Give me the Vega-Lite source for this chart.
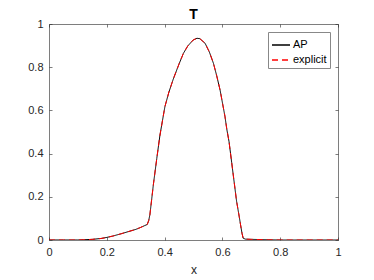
{
  "$schema": "https://vega.github.io/schema/vega-lite/v6.json",
  "autosize": "none",
  "width": 289,
  "height": 216,
  "padding": {"left": 49, "top": 24, "right": 36, "bottom": 40},
  "background": "white",
  "config": {
    "font": "Liberation Sans",
    "view": {"stroke": null},
    "axis": {"grid": false, "domainColor": "#262626", "domainWidth": 0.6, "tickColor": "#262626", "tickWidth": 0.6, "labelColor": "#262626", "labelFontSize": 11, "titleFontSize": 12, "titleColor": "#262626", "titleFontWeight": "normal"}
  },
  "title": {"text": "T", "fontSize": 14, "fontWeight": "bold", "color": "#000000", "offset": -4},
  "datasets": {
    "curve": [
      {"x": 0, "y": 0}, {"x": 0.05, "y": 0}, {"x": 0.1, "y": 0}, {"x": 0.12, "y": 0.001},
      {"x": 0.15, "y": 0.003}, {"x": 0.18, "y": 0.007}, {"x": 0.2, "y": 0.012}, {"x": 0.22, "y": 0.018},
      {"x": 0.25, "y": 0.029}, {"x": 0.28, "y": 0.041}, {"x": 0.3, "y": 0.049}, {"x": 0.315, "y": 0.057},
      {"x": 0.33, "y": 0.066}, {"x": 0.34, "y": 0.072}, {"x": 0.345, "y": 0.09}, {"x": 0.349, "y": 0.116},
      {"x": 0.355, "y": 0.185}, {"x": 0.361, "y": 0.255}, {"x": 0.373, "y": 0.378}, {"x": 0.384, "y": 0.486},
      {"x": 0.401, "y": 0.617}, {"x": 0.415, "y": 0.685}, {"x": 0.43, "y": 0.745}, {"x": 0.45, "y": 0.815},
      {"x": 0.465, "y": 0.864}, {"x": 0.48, "y": 0.898}, {"x": 0.499, "y": 0.926}, {"x": 0.512, "y": 0.934},
      {"x": 0.522, "y": 0.932}, {"x": 0.54, "y": 0.911}, {"x": 0.555, "y": 0.87}, {"x": 0.569, "y": 0.818},
      {"x": 0.58, "y": 0.762}, {"x": 0.592, "y": 0.694}, {"x": 0.609, "y": 0.571}, {"x": 0.615, "y": 0.515},
      {"x": 0.623, "y": 0.455}, {"x": 0.632, "y": 0.36}, {"x": 0.649, "y": 0.18}, {"x": 0.658, "y": 0.11},
      {"x": 0.663, "y": 0.069}, {"x": 0.668, "y": 0.03}, {"x": 0.672, "y": 0.008}, {"x": 0.68, "y": 0.004},
      {"x": 0.7, "y": 0.003}, {"x": 0.73, "y": 0.002}, {"x": 0.76, "y": 0.001}, {"x": 0.8, "y": 0},
      {"x": 0.85, "y": 0}, {"x": 0.9, "y": 0}, {"x": 1.0, "y": 0}
    ]
  },
  "data": {"name": "curve"},
  "transform": [
    {"fold": ["AP", "explicit"], "as": ["series", "dummy"]}
  ],
  "layer": [
    {
      "mark": {"type": "line", "strokeWidth": 1, "clip": true},
      "encoding": {
        "x": {"field": "x", "type": "quantitative", "scale": {"domain": [0, 1], "nice": false},
              "axis": {"orient": "bottom", "values": [0, 0.2, 0.4, 0.6, 0.8, 1], "format": "~g", "tickSize": -3, "labelPadding": 9, "title": "x", "titlePadding": 7, "labelFlush": false}},
        "y": {"field": "y", "type": "quantitative", "scale": {"domain": [0, 1], "nice": false},
              "axis": {"orient": "left", "values": [0, 0.2, 0.4, 0.6, 0.8, 1], "format": "~g", "tickSize": -3, "labelPadding": 9, "title": null, "labelFlush": false}},
        "color": {"field": "series", "type": "nominal", "scale": {"domain": ["AP", "explicit"], "range": ["#000000", "#ff0000"]},
                  "legend": {"title": null, "orient": "none", "legendX": 219, "legendY": 8, "symbolType": "stroke", "symbolSize": 324, "symbolStrokeWidth": 1.3, "labelFontSize": 11, "labelColor": "#000000", "fillColor": "white", "strokeColor": "#888888", "padding": 3, "rowPadding": -2, "labelOffset": 2}},
        "strokeDash": {"field": "series", "type": "nominal", "scale": {"domain": ["AP", "explicit"], "range": [[1, 0], [6, 4]]}, "legend": {"title": null}}
      }
    },
    {
      "mark": {"type": "point", "opacity": 0},
      "encoding": {
        "x": {"field": "x", "type": "quantitative", "scale": {"domain": [0, 1], "nice": false},
              "axis": {"orient": "top", "values": [0, 0.2, 0.4, 0.6, 0.8, 1], "labels": false, "tickSize": -3, "title": null}},
        "y": {"field": "y", "type": "quantitative", "scale": {"domain": [0, 1], "nice": false},
              "axis": {"orient": "right", "values": [0, 0.2, 0.4, 0.6, 0.8, 1], "labels": false, "tickSize": -3, "title": null}}
      }
    }
  ],
  "resolve": {"axis": {"x": "independent", "y": "independent"}}
}
